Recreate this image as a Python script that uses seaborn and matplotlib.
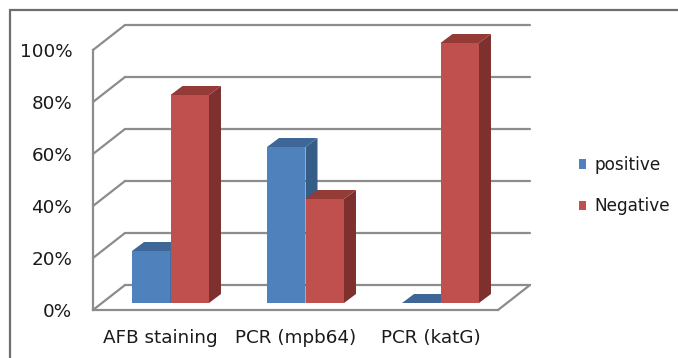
import matplotlib
matplotlib.use("Agg")
import matplotlib.pyplot as plt
from matplotlib.patches import Polygon, Patch
from matplotlib.lines import Line2D
import seaborn as sns
import pandas as pd

# data
tests = ["AFB staining", "PCR (mpb64)", "PCR (katG)"]
results = ["positive", "Negative"]
positive = [0.20, 0.60, 0.0]
negative = [0.80, 0.40, 1.00]
y_ticks = [0.0, 0.2, 0.4, 0.6, 0.8, 1.0]
y_labels = ["0%", "20%", "40%", "60%", "80%", "100%"]

front_colors = ["#4F81BD", "#C0504D"]
side_colors = ["#365C88", "#7D302E"]
top_colors = ["#3E6797", "#943A37"]
grid_color = "#8C8C8C"
text_color = "#1a1a1a"
fs = 13.2

df = pd.DataFrame({
    "test": tests * 2,
    "result": [results[0]] * 3 + [results[1]] * 3,
    "value": positive + negative,
})

sns.set_style("white")
plt.rcParams["font.family"] = ["DejaVu Sans"]

W, H = 678, 358
fig = plt.figure(figsize=(W / 100, H / 100), dpi=100)
# front plane: x 93..498 px, y 310..50 px
ax = fig.add_axes([93 / W, (H - 310) / H, 405 / W, 260 / H])

PX_X = 1 / 135.0   # data units per pixel in x
PX_Y = 1 / 260.0   # data units per pixel in y

# offsets (in data units) of the bar plane relative to the front plane
bar_dx, bar_dy = 10 * PX_X, 7 * PX_Y
# back wall relative to front plane
back_dx, back_dy = 32 * PX_X, 25 * PX_Y
# depth of a bar
dep_dx, dep_dy = 12 * PX_X, 9 * PX_Y

x_left = -0.5 - bar_dx
x_right = x_left + 3
y_floor = -bar_dy

sns.barplot(data=df, x="test", y="value", hue="result", palette=front_colors,
            width=0.57, saturation=1, ax=ax, legend=False, linewidth=0)

ax.set_xlim(x_left, x_right)
ax.set_ylim(y_floor, y_floor + 1)

# 3D faces of each bar
for i, p in enumerate(ax.patches):
    k = i // len(tests)
    x0 = p.get_x()
    x1 = x0 + p.get_width()
    h = p.get_height()
    p.set_zorder(2 + k)
    p.set_clip_on(False)
    side = Polygon([(x1, 0), (x1 + dep_dx, dep_dy), (x1 + dep_dx, h + dep_dy), (x1, h)],
                   closed=True, facecolor=side_colors[k], edgecolor="none",
                   zorder=2 + k, clip_on=False)
    top = Polygon([(x0, h), (x1, h), (x1 + dep_dx, h + dep_dy), (x0 + dep_dx, h + dep_dy)],
                  closed=True, facecolor=top_colors[k], edgecolor="none",
                  zorder=2 + k, clip_on=False)
    ax.add_patch(side)
    ax.add_patch(top)

# back wall gridlines and left wall diagonals
for v in y_ticks:
    yf = y_floor + v
    ax.plot([x_left + back_dx, x_right + back_dx], [yf + back_dy, yf + back_dy],
            color=grid_color, lw=1.6, clip_on=False, zorder=0.5)
    ax.plot([x_left, x_left + back_dx], [yf, yf + back_dy],
            color=grid_color, lw=1.6, clip_on=False, zorder=0.5)
# floor right edge
ax.plot([x_right, x_right + back_dx], [y_floor, y_floor + back_dy],
        color=grid_color, lw=1.6, clip_on=False, zorder=0.5)

# axes styling
for s in ["top", "right"]:
    ax.spines[s].set_visible(False)
for s in ["left", "bottom"]:
    ax.spines[s].set_color(grid_color)
    ax.spines[s].set_linewidth(1.6)

ax.set_yticks([y_floor + v for v in y_ticks])
ax.set_yticklabels(y_labels)
ax.tick_params(axis="y", length=4, width=1.2, color=grid_color, pad=11,
               labelsize=fs, labelcolor=text_color)

ax.set_xticks([x_left + i for i in range(4)])
ax.set_xticklabels([])
ax.set_xticks([i - bar_dx for i in range(3)], minor=True)
ax.set_xticklabels(tests, minor=True)
ax.tick_params(axis="x", which="major", length=5, width=1.2, color=grid_color)
ax.tick_params(axis="x", which="minor", length=0, pad=14, labelsize=fs,
               labelcolor=text_color)
ax.set_xlabel("")
ax.set_ylabel("")

handles = [Patch(facecolor=c, edgecolor="none") for c in front_colors]
fig.legend(handles, results, loc="upper left", bbox_to_anchor=(572 / W, 1 - 149 / H),
           frameon=False, fontsize=12.2, handlelength=0.45, handleheight=0.5,
           handletextpad=0.45, labelspacing=1.4, borderaxespad=0,
           labelcolor=text_color)

# outer chart frame (cut off at right and bottom)
fig.add_artist(Line2D([10 / W, 1.0], [1 - 10 / H, 1 - 10 / H], color="#6E6E6E", lw=1.6))
fig.add_artist(Line2D([10 / W, 10 / W], [0.0, 1 - 10 / H], color="#6E6E6E", lw=1.6))

fig.savefig("out.png", dpi=100)
